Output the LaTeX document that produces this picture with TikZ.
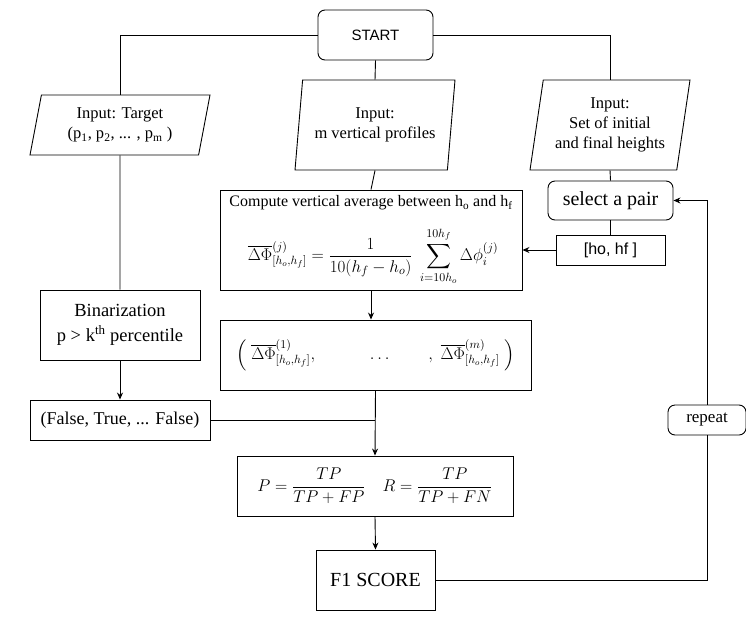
\RequirePackage{fix-cm}
\documentclass[tikz,border=0pt]{standalone}
\usepackage{amsmath}
\usepackage{fontspec}
\setmainfont{Liberation Serif}
\newfontfamily\sansfont{Liberation Sans}
\usetikzlibrary{shapes.geometric,arrows.meta,positioning}

\begin{document}
\begin{tikzpicture}[x=1pt,y=-1pt,line width=0.9pt,
  >={Stealth[length=7pt,width=6pt]},
  box/.style={draw,rectangle,inner sep=0pt,align=center},
  rbox/.style={box,rounded corners=7pt},
  inbox/.style={draw,trapezium,trapezium stretches body,inner sep=0pt,align=center,
    font=\fontsize{16.5}{20}\selectfont},
  mathfont/.style={font=\fontsize{17}{21}\selectfont}]
\useasboundingbox (0,0) rectangle (746,621);

\node[rbox,minimum width=115,minimum height=50,font=\sansfont\fontsize{15}{18}\selectfont] (start) at (375.5,35) {START};

% the three inputs
\node[inbox,trapezium left angle=71.6,trapezium right angle=108.4,minimum width=180,minimum height=60] (target) at (120,125)
  {Input: Target\\(p\textsubscript{1}, p\textsubscript{2}, ... , p\textsubscript{m} )};
\node[inbox,trapezium left angle=77.5,trapezium right angle=102.5,minimum width=160,minimum height=90] (prof) at (375,125)
  {Input:\\m vertical profiles};
\node[inbox,trapezium left angle=76.3,trapezium right angle=103.7,minimum width=160,minimum height=90] (heights) at (610,125)
  {Input:\\Set of initial\\and final heights};

\node[rbox,minimum width=125,minimum height=39,font=\fontsize{20}{24}\selectfont] (pair) at (610.5,200.5) {select a pair};
\node[box,minimum width=109,minimum height=30,font=\sansfont\fontsize{16}{19}\selectfont] (hohf) at (610.5,250) {[ho, hf ]};

% vertical average
\node[box,minimum width=302,minimum height=100] (avg) at (371,240) {};
\node[font=\fontsize{16}{19}\selectfont,inner sep=0pt] (avgtitle) at (371,203)
  {Compute vertical average between h\textsubscript{o} and h\textsubscript{f}};
\node[mathfont,inner sep=0pt] (avgeq) at (373,256)
  {$\displaystyle \overline{\Delta\Phi}^{(j)}_{[h_o,h_f]} = \frac{1}{10(h_f-h_o)}\;\sum_{i=10h_o}^{10h_f}\Delta\phi_i^{(j)}$};

\node[box,minimum width=311,minimum height=70,mathfont] (tuple) at (375.5,355)
  {$\Big(\;\overline{\Delta\Phi}^{(1)}_{[h_o,h_f]},\hspace{52pt}\dots\hspace{36pt},\;\overline{\Delta\Phi}^{(m)}_{[h_o,h_f]}\;\Big)$};

\node[box,minimum width=160,minimum height=70,font=\fontsize{18.5}{25}\selectfont] (bin) at (120,325)
  {Binarization\\p > k\textsuperscript{th} percentile};
\node[box,minimum width=180,minimum height=40,font=\fontsize{18}{22}\selectfont] (false) at (120,420) {(False, True, ... False)};

\node[box,minimum width=276,minimum height=60,mathfont] (pr) at (375,486)
  {$\displaystyle P=\frac{TP}{TP+FP}\quad R=\frac{TP}{TP+FN}$};
\node[box,minimum width=119,minimum height=60,font=\fontsize{20}{24}\selectfont] (f1) at (375.5,580) {F1 SCORE};

\node[rbox,minimum width=78,minimum height=30,font=\fontsize{17}{20}\selectfont] (rep) at (707,420) {repeat};

% connectors
\draw (start.west) -| (target.north);
\draw (start.east) -| (heights.north);
\draw (start.south) -- (prof.north);
\draw (prof.south) -- (avg.north);
\draw (heights.south) -- (pair.north);
\draw (pair.south) -- (hohf.north);
\draw[->] (hohf.west) -- (hohf.west -| avg.east);
\draw (target.south) -- (bin.north);
\draw[->] (bin.south) -- (false.north);
\draw[->] (avg.south) -- (avg.south |- tuple.north);
\draw (false.east) -- (false.east -| pr.north);
\draw[->] (tuple.south) -- (pr.north);
\draw[->] (pr.south) -- (f1.north);
\draw (f1.east) -| (rep.south);
\draw[->] (rep.north) |- (pair.east);
\end{tikzpicture}
\end{document}
